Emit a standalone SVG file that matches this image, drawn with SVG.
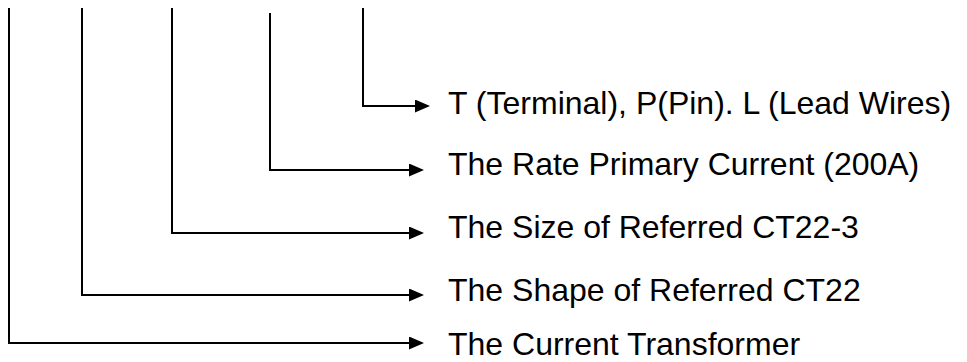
<svg xmlns="http://www.w3.org/2000/svg" width="967" height="362" viewBox="0 0 967 362">
<style>
.c{fill:none;stroke:#000;stroke-width:2;marker-end:url(#ah)}
.t{font-family:"Liberation Sans",Arial,sans-serif;font-size:32px;fill:#000}
</style>
<defs>
<marker id="ah" markerUnits="userSpaceOnUse" markerWidth="15" markerHeight="13" refX="13" refY="6.5" orient="auto">
<path d="M0,0 L15,6.5 L0,13 Z" fill="#000"/>
</marker>
</defs>
<rect width="967" height="362" fill="#fff"/>
<g id="connectors">
<path class="c" d="M363,8 V106 H428"/>
<path class="c" d="M270,13 V170 H422"/>
<path class="c" d="M172,8 V233 H422"/>
<path class="c" d="M82,8 V295 H422"/>
<path class="c" d="M9,8 V343 H422"/>
</g>
<g id="n1"><text class="t" x="448" y="114">T (Terminal), P(Pin). L (Lead Wires)</text></g>
<g id="n2"><text class="t" x="448" y="175">The Rate Primary Current (200A)</text></g>
<g id="n3"><text class="t" x="448" y="238">The Size of Referred CT22-3</text></g>
<g id="n4"><text class="t" x="448" y="301">The Shape of Referred CT22</text></g>
<g id="n5"><text class="t" x="448" y="355">The Current Transformer</text></g>
</svg>
